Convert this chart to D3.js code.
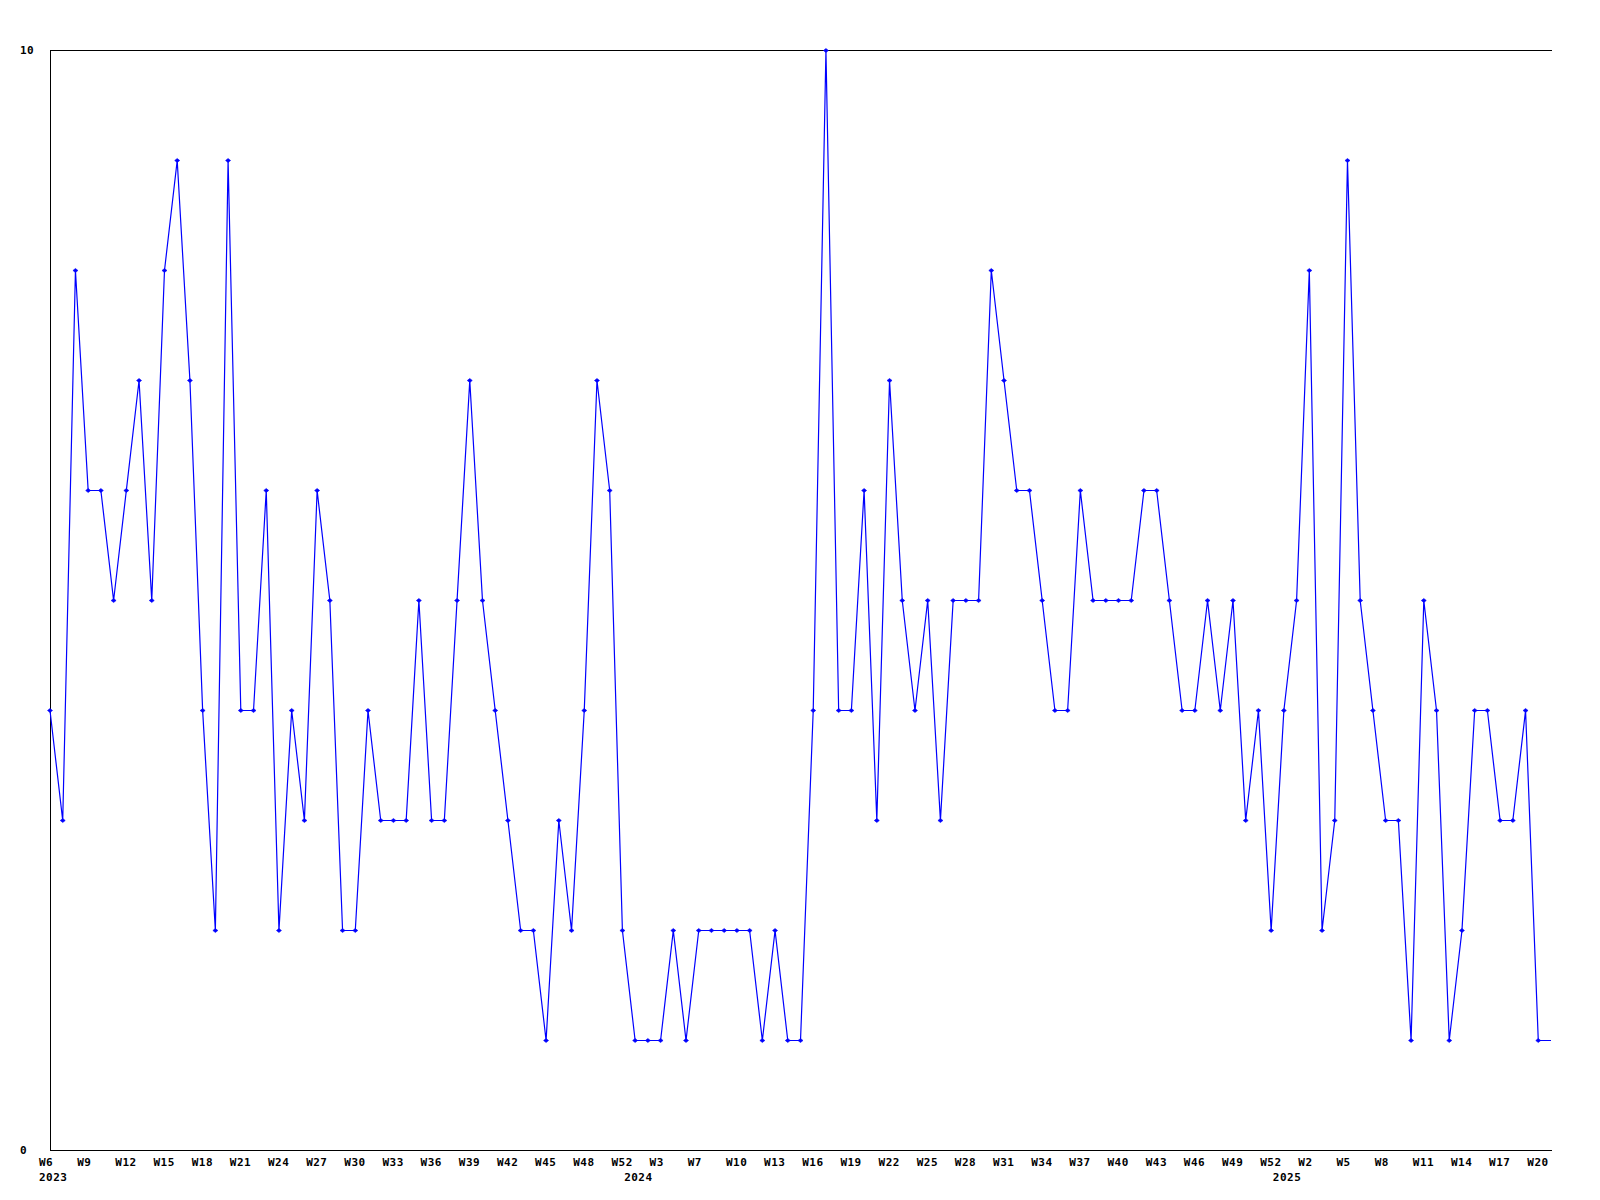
<!DOCTYPE html>
<html>
<head>
<meta charset="utf-8">
<script src="https://cdn.jsdelivr.net/npm/d3@7/dist/d3.min.js"></script>
<style>
  html, body { margin: 0; padding: 0; background: #ffffff; }
  svg { display: block; }
  text { font-family: "DejaVu Sans Mono", "Liberation Mono", monospace; font-weight: bold; font-size: 11px; fill: #000; }
</style>
</head>
<body>
<svg id="chart" width="1600" height="1200"></svg>
<script>
// ---- data ----
const values = [
  4, 3, 8, 6, 6, 5, 6, 7, 5, 8, 9, 7, 4, 2, 9, 4, 4, 6, 2, 4,
  3, 6, 5, 2, 2, 4, 3, 3, 3, 5, 3, 3, 5, 7, 5, 4, 3, 2, 2, 1,
  3, 2, 4, 7, 6, 2, 1, 1, 1, 2, 1, 2, 2, 2, 2, 2, 1, 2, 1, 1,
  4, 10, 4, 4, 6, 3, 7, 5, 4, 5, 3, 5, 5, 5, 8, 7, 6, 6, 5, 4,
  4, 6, 5, 5, 5, 5, 6, 6, 5, 4, 4, 5, 4, 5, 3, 4, 2, 4, 5, 8,
  2, 3, 9, 5, 4, 3, 3, 1, 5, 4, 1, 2, 4, 4, 3, 3, 4, 1, 1
];
const weekLabels = [
  "W6", "W9", "W12", "W15", "W18", "W21", "W24", "W27", "W30", "W33",
  "W36", "W39", "W42", "W45", "W48", "W52",
  "W3", "W7", "W10", "W13", "W16", "W19", "W22", "W25", "W28", "W31",
  "W34", "W37", "W40", "W43", "W46", "W49", "W52",
  "W2", "W5", "W8", "W11", "W14", "W17", "W20"
];
const weekLabelStep = 3;           // one label every 3 points
const yearLabels = ["2023", "2024", "2025"];
const yearLabelIndex = [0, 46, 97];
const yTickValues = [0, 10];

// ---- layout ----
const svg = d3.select("#chart");
const plotLeft = 50, plotRight = 1551, plotTop = 50.5, plotBottom = 1150.5;

const x = d3.scaleLinear().domain([0, values.length - 1]).range([plotLeft, plotRight]);
const y = d3.scaleLinear().domain([0, 10]).range([plotBottom, plotTop]);

svg.append("defs").append("clipPath").attr("id", "markClip")
  .append("rect").attr("x", plotLeft - 5).attr("y", plotTop - 5)
  .attr("width", plotRight - plotLeft + 3).attr("height", plotBottom - plotTop + 10);

// frame: left, top, bottom lines
const frame = svg.append("g").attr("stroke", "#000").attr("stroke-width", 1).attr("shape-rendering", "crispEdges");
frame.append("line").attr("x1", plotLeft + 0.5).attr("x2", plotLeft + 0.5).attr("y1", y(10)).attr("y2", y(0));
frame.append("line").attr("x1", plotLeft).attr("x2", plotRight + 1).attr("y1", y(10)).attr("y2", y(10));
frame.append("line").attr("x1", plotLeft).attr("x2", plotRight + 1).attr("y1", y(0)).attr("y2", y(0));

// y tick labels
svg.append("g").selectAll("text").data(yTickValues).join("text")
  .attr("x", 20)
  .attr("y", d => y(d))
  .attr("dy", "0.36em")
  .attr("letter-spacing", "0.5px")
  .text(d => d);

// x week labels
svg.append("g").selectAll("text").data(weekLabels).join("text")
  .attr("x", (d, i) => x(i * weekLabelStep) - 11)
  .attr("y", 1166)
  .attr("letter-spacing", "0.5px")
  .text(d => d);

// year labels
svg.append("g").selectAll("text").data(yearLabels).join("text")
  .attr("x", (d, i) => x(yearLabelIndex[i]) - 11)
  .attr("y", 1181)
  .attr("letter-spacing", "0.5px")
  .text(d => d);

// line
const line = d3.line().x((d, i) => x(i)).y(d => y(d));
svg.append("path")
  .datum(values)
  .attr("d", line)
  .attr("fill", "none")
  .attr("stroke", "#0000ff")
  .attr("stroke-width", 1.2);

// markers
svg.append("g").attr("clip-path", "url(#markClip)")
  .selectAll("path").data(values.slice(0, values.length - 1)).join("path")
  .attr("transform", (d, i) => `translate(${x(i)},${y(d)})`)
  .attr("d", "M-2.5,0L0,-2L2.5,0L0,2Z")
  .attr("fill", "#0000ff")
  .attr("stroke", "#0000ff")
  .attr("stroke-width", 0.6);
</script>
</body>
</html>
